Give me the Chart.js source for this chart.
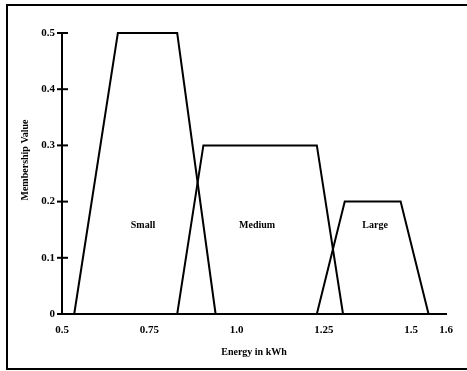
<!DOCTYPE html>
<html>
<head>
<meta charset="utf-8">
<script src="https://cdn.jsdelivr.net/npm/chart.js@4/dist/chart.umd.min.js"></script>
<style>
html,body{margin:0;padding:0;background:#fff;}
#wrap{width:467px;height:371px;}
</style>
</head>
<body>
<div id="wrap"><canvas id="c" width="467" height="371"></canvas></div>
<script>
// ---- data ----
const xTicks = [0.5, 0.75, 1.0, 1.25, 1.5, 1.6];
const xTickLabels = ["0.5", "0.75", "1.0", "1.25", "1.5", "1.6"];
const yTicks = [0, 0.1, 0.2, 0.3, 0.4, 0.5];
const yTickLabels = ["0", "0.1", "0.2", "0.3", "0.4", "0.5"];

const smallX = [0.535, 0.66, 0.83, 0.94];
const smallY = [0, 0.5, 0.5, 0];
const mediumX = [0.83, 0.905, 1.23, 1.305];
const mediumY = [0, 0.3, 0.3, 0];
const largeX = [1.23, 1.31, 1.47, 1.55];
const largeY = [0, 0.2, 0.2, 0];

const setNames = ["Small", "Medium", "Large"];
const setLabelX = [0.732, 1.059, 1.397];
const setLabelY = [0.158, 0.158, 0.158];

const xTitle = "Energy in kWh";
const yTitle = "Membership Value";

const FONT = "'Liberation Serif', 'Times New Roman', serif";

function pts(xs, ys){ return xs.map((x,i)=>({x:x, y:ys[i]})); }

const ds = (xs, ys) => ({
  data: pts(xs, ys),
  showLine: true,
  borderColor: '#000',
  borderWidth: 2,
  pointRadius: 0,
  tension: 0,
  fill: false,
  clip: false
});

const decor = {
  id: 'decor',
  beforeDraw(chart){
    const ctx = chart.ctx;
    ctx.save();
    ctx.fillStyle = '#fff';
    ctx.fillRect(0,0,chart.width,chart.height);
    ctx.strokeStyle = '#000';
    ctx.lineWidth = 2;
    ctx.beginPath();
    ctx.moveTo(467, 5); ctx.lineTo(7, 5); ctx.lineTo(7, 369); ctx.lineTo(467, 369);
    ctx.stroke();
    ctx.restore();
  },
  afterDraw(chart){
    const ctx = chart.ctx;
    const xs = chart.scales.x, ys = chart.scales.y;
    ctx.save();
    ctx.strokeStyle = '#000';
    ctx.lineWidth = 2;
    const ax = xs.getPixelForValue(xTicks[0]);
    yTicks.forEach(v=>{
      const py = ys.getPixelForValue(v);
      ctx.beginPath();
      ctx.moveTo(ax-5, py); ctx.lineTo(ax+6, py);
      ctx.stroke();
    });
    ctx.fillStyle = '#000';
    ctx.font = "bold 10px " + FONT;
    ctx.textAlign = 'center';
    ctx.textBaseline = 'middle';
    setNames.forEach((n,i)=>{
      ctx.fillText(n, xs.getPixelForValue(setLabelX[i]), ys.getPixelForValue(setLabelY[i]));
    });
    ctx.translate(25, 160);
    ctx.rotate(-Math.PI/2);
    ctx.fillText(yTitle, 0, 0);
    ctx.restore();
  }
};

new Chart(document.getElementById('c'), {
  type: 'scatter',
  data: { datasets: [ds(smallX, smallY), ds(mediumX, mediumY), ds(largeX, largeY)] },
  options: {
    responsive: false,
    animation: false,
    layout: { padding: { left: 0, top: 33, right: 21, bottom: 0 } },
    plugins: { legend: { display: false }, tooltip: { enabled: false } },
    scales: {
      x: {
        type: 'linear', min: 0.5, max: 1.6,
        afterBuildTicks: s => { s.ticks = xTicks.map(v=>({value:v})); },
        afterFit: s => { s.height = 57; },
        grid: { display: false, drawTicks: false },
        border: { display: true, color: '#000', width: 2 },
        ticks: {
          padding: 10, color: '#000', maxRotation: 0, autoSkip: false,
          font: { family: FONT, size: 11, weight: 'bold' },
          callback: (v) => { const i = xTicks.indexOf(v); return i >= 0 ? xTickLabels[i] : ''; }
        },
        title: { display: true, text: xTitle, color: '#000', padding: { top: 0, bottom: 13 },
                 font: { family: FONT, size: 10, weight: 'bold' } }
      },
      y: {
        type: 'linear', min: 0, max: 0.5,
        afterBuildTicks: s => { s.ticks = yTicks.map(v=>({value:v})); },
        afterFit: s => { s.width = 62; },
        grid: { display: false, drawTicks: false },
        border: { display: true, color: '#000', width: 2 },
        ticks: {
          padding: 7, color: '#000', autoSkip: false,
          font: { family: FONT, size: 11, weight: 'bold' },
          callback: (v) => { const i = yTicks.findIndex(t=>Math.abs(t-v)<1e-9); return i >= 0 ? yTickLabels[i] : ''; }
        }
      }
    }
  },
  plugins: [decor]
});
</script>
</body>
</html>
